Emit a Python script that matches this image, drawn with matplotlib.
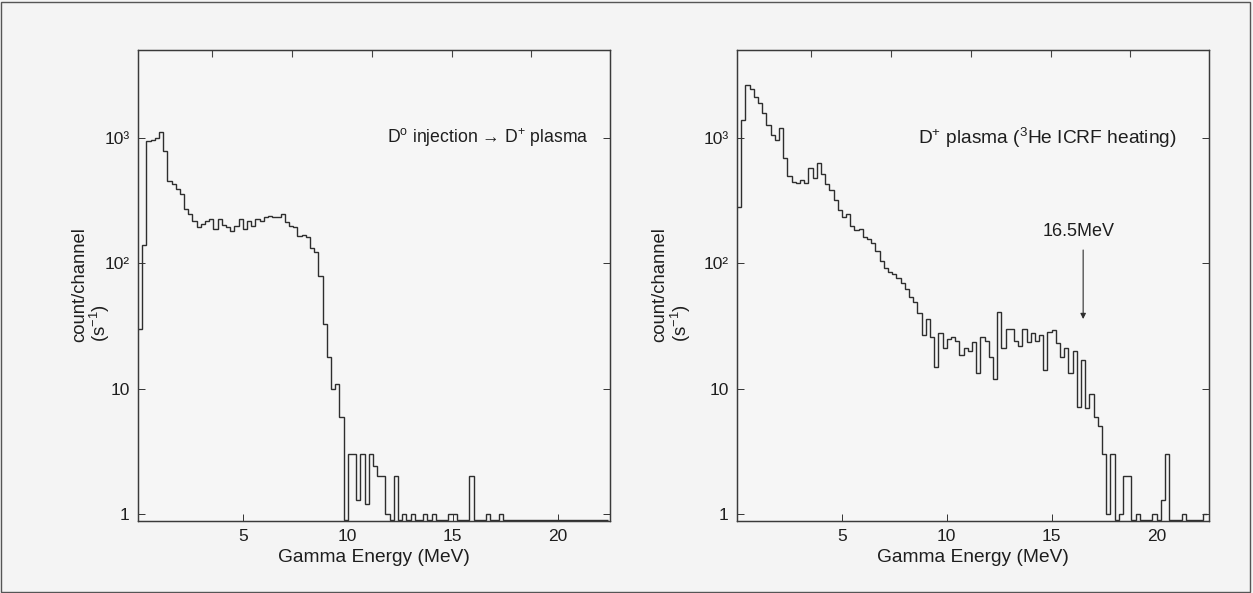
import numpy as np
import matplotlib
matplotlib.use("Agg")
import matplotlib.pyplot as plt
from matplotlib.patches import Rectangle

plt.rcParams['font.family'] = ['Liberation Sans', 'DejaVu Sans']
plt.rcParams['mathtext.fontset'] = 'custom'
plt.rcParams['mathtext.rm'] = 'Liberation Sans'
plt.rcParams['mathtext.it'] = 'Liberation Sans:italic'

# ---- data (counts per 0.2 MeV channel, starting at 0 MeV) ----
bin_width = 0.2
left_counts = [
    30, 140, 950, 960, 1000, 1120, 790, 455, 430, 390,          # 0.0 - 1.8
    355, 270, 246, 217, 194, 205, 217, 225, 187, 225,           # 2.0 - 3.8
    201, 194, 180, 199, 225, 187, 217, 199, 225, 217,           # 4.0 - 5.8
    233, 240, 233, 233, 246, 213, 199, 194, 165, 170,           # 6.0 - 7.8
    162, 134, 123, 79, 33, 18, 10, 11, 6, 0,                    # 8.0 - 9.8
    3, 3, 1.3, 3, 1.2, 3, 2.4, 2, 2, 1,                         # 10.0 - 11.8
    0, 2, 0, 1, 0, 1, 0, 0, 1, 0,                               # 12.0 - 13.8
    1, 0, 0, 0, 1, 1, 0, 0, 0, 2,                               # 14.0 - 15.8
    0, 0, 0, 1, 0, 0, 1, 0, 0, 0,                               # 16.0 - 17.8
    0, 0, 0, 0, 0, 0, 0, 0, 0, 0,                               # 18.0 - 19.8
    0, 0, 0, 0, 0, 0, 0, 0, 0, 0,                               # 20.0 - 21.8
    0, 0,                                                       # 22.0 - 22.2
]
right_counts = [
    280, 1400, 2650, 2450, 2140, 1900, 1600, 1270, 1050, 960,   # 0.0 - 1.8
    1200, 700, 500, 450, 440, 460, 440, 580, 480, 630,          # 2.0 - 3.8
    520, 430, 385, 320, 265, 235, 250, 200, 185, 190,           # 4.0 - 5.8
    163, 158, 145, 125, 105, 92, 85, 82, 76, 70,                # 6.0 - 7.8
    63, 54, 49, 40, 27, 36, 26, 15, 28, 21,                     # 8.0 - 9.8
    25, 26, 24, 18.6, 21, 20, 23.5, 13.3, 26, 24,               # 10.0 - 11.8
    18, 12, 41, 21, 30, 30, 24, 22, 30, 23.5,                   # 12.0 - 13.8
    28, 24, 27, 14, 28.5, 29.5, 23, 18, 21, 13.3,               # 14.0 - 15.8
    20, 7.1, 17, 7, 9, 6, 5, 3, 1, 3,                           # 16.0 - 17.8
    0, 1, 2, 2, 0, 1, 0, 0, 0, 1,                               # 18.0 - 19.8
    0, 1.3, 3, 0, 0, 0, 1, 0, 0, 0,                             # 20.0 - 21.8
    0, 1,                                                       # 22.0 - 22.2
]
ytick_vals = [1, 10, 100, 1000]
ytick_labels = ['1', '10', '10²', '10³']
xtick_vals = [5, 10, 15, 20]
top_tick_vals = [3.55, 7.35, 11.15, 14.95, 18.75]
left_title = r"D$^{\mathrm{o}}$ injection → D$^{+}$ plasma"
right_title = r"D$^{+}$ plasma ($^{3}$He ICRF heating)"
ylabel_line1 = "count/channel"
ylabel_line2 = r"(s$^{-1}$)"
peak_energy = 16.5
peak_label = "16.5MeV"

# ---- figure ----
W, H = 1253, 593
fig = plt.figure(figsize=(W / 100, H / 100), dpi=100, facecolor='#f4f4f4')
fig.patches.append(Rectangle((0.001, 0.002), 0.997, 0.994, transform=fig.transFigure,
                             fill=False, edgecolor='#555555', lw=1.0))

line_col = '#2e2e2e'
txt_col = '#1e1e1e'
ymin, ymax = 0.88, 5050
floor = 0.9

def make_panel(rect, counts, title, title_x, title_size, ylab_x):
    ax = fig.add_axes(rect)
    ax.set_facecolor('#f6f6f6')
    vals = np.maximum(np.asarray(counts, dtype=float), floor)
    edges = np.arange(len(vals) + 1) * bin_width
    ax.stairs(vals, edges, baseline=None, color=line_col, lw=1.0)
    ax.set_yscale('log')
    ax.set_xlim(0, 22.5)
    ax.set_ylim(ymin, ymax)
    ax.set_yticks(ytick_vals)
    ax.set_yticklabels(ytick_labels)
    ax.yaxis.set_minor_locator(matplotlib.ticker.NullLocator())
    ax.set_xticks(xtick_vals)
    ax.tick_params(direction='in', length=5, width=0.7, colors='#333333',
                   labelsize=12.5, right=True, pad=6)
    top = ax.twiny()
    top.set_xlim(ax.get_xlim())
    top.set_xticks(top_tick_vals)
    top.tick_params(axis='x', direction='in', length=5, width=0.8, colors='#444444',
                    labeltop=False)
    for s in ax.spines.values():
        s.set_color('#3a3a3a')
        s.set_linewidth(0.9)
    for s in top.spines.values():
        s.set_color('#3a3a3a')
        s.set_linewidth(0.9)
    ax.set_xlabel('Gamma Energy (MeV)', fontsize=13.8, color=txt_col, labelpad=3)
    # two-line y label, both lines starting at the same bottom height
    fig.text(ylab_x[0], 0.424, ylabel_line1, rotation=90, fontsize=13.3,
             color=txt_col, ha='center', va='bottom')
    fig.text(ylab_x[1], 0.424, ylabel_line2, rotation=90, fontsize=13.3,
             color=txt_col, ha='center', va='bottom')
    ax.text(title_x, 1000, title, fontsize=title_size, color=txt_col,
            ha='center', va='center')
    for lab in ax.get_xticklabels() + ax.get_yticklabels():
        lab.set_color(txt_col)
    return ax

axl = make_panel([0.1101, 0.1214, 0.3767, 0.7943], left_counts, left_title, 16.7, 12.7,
                 (80 / W, 100 / W))
axr = make_panel([0.5882, 0.1214, 0.3767, 0.7943], right_counts, right_title, 14.8, 13.8,
                 (660 / W, 681 / W))

axr.annotate('', xy=(peak_energy, 36), xytext=(peak_energy, 128),
             arrowprops=dict(arrowstyle='-|>', color=line_col, lw=0.8,
                             mutation_scale=8, shrinkA=0, shrinkB=0))
axr.text(peak_energy - 0.2, 180, peak_label, fontsize=13, color=txt_col,
         ha='center', va='center')

fig.savefig('out.png', dpi=100, facecolor=fig.get_facecolor())
